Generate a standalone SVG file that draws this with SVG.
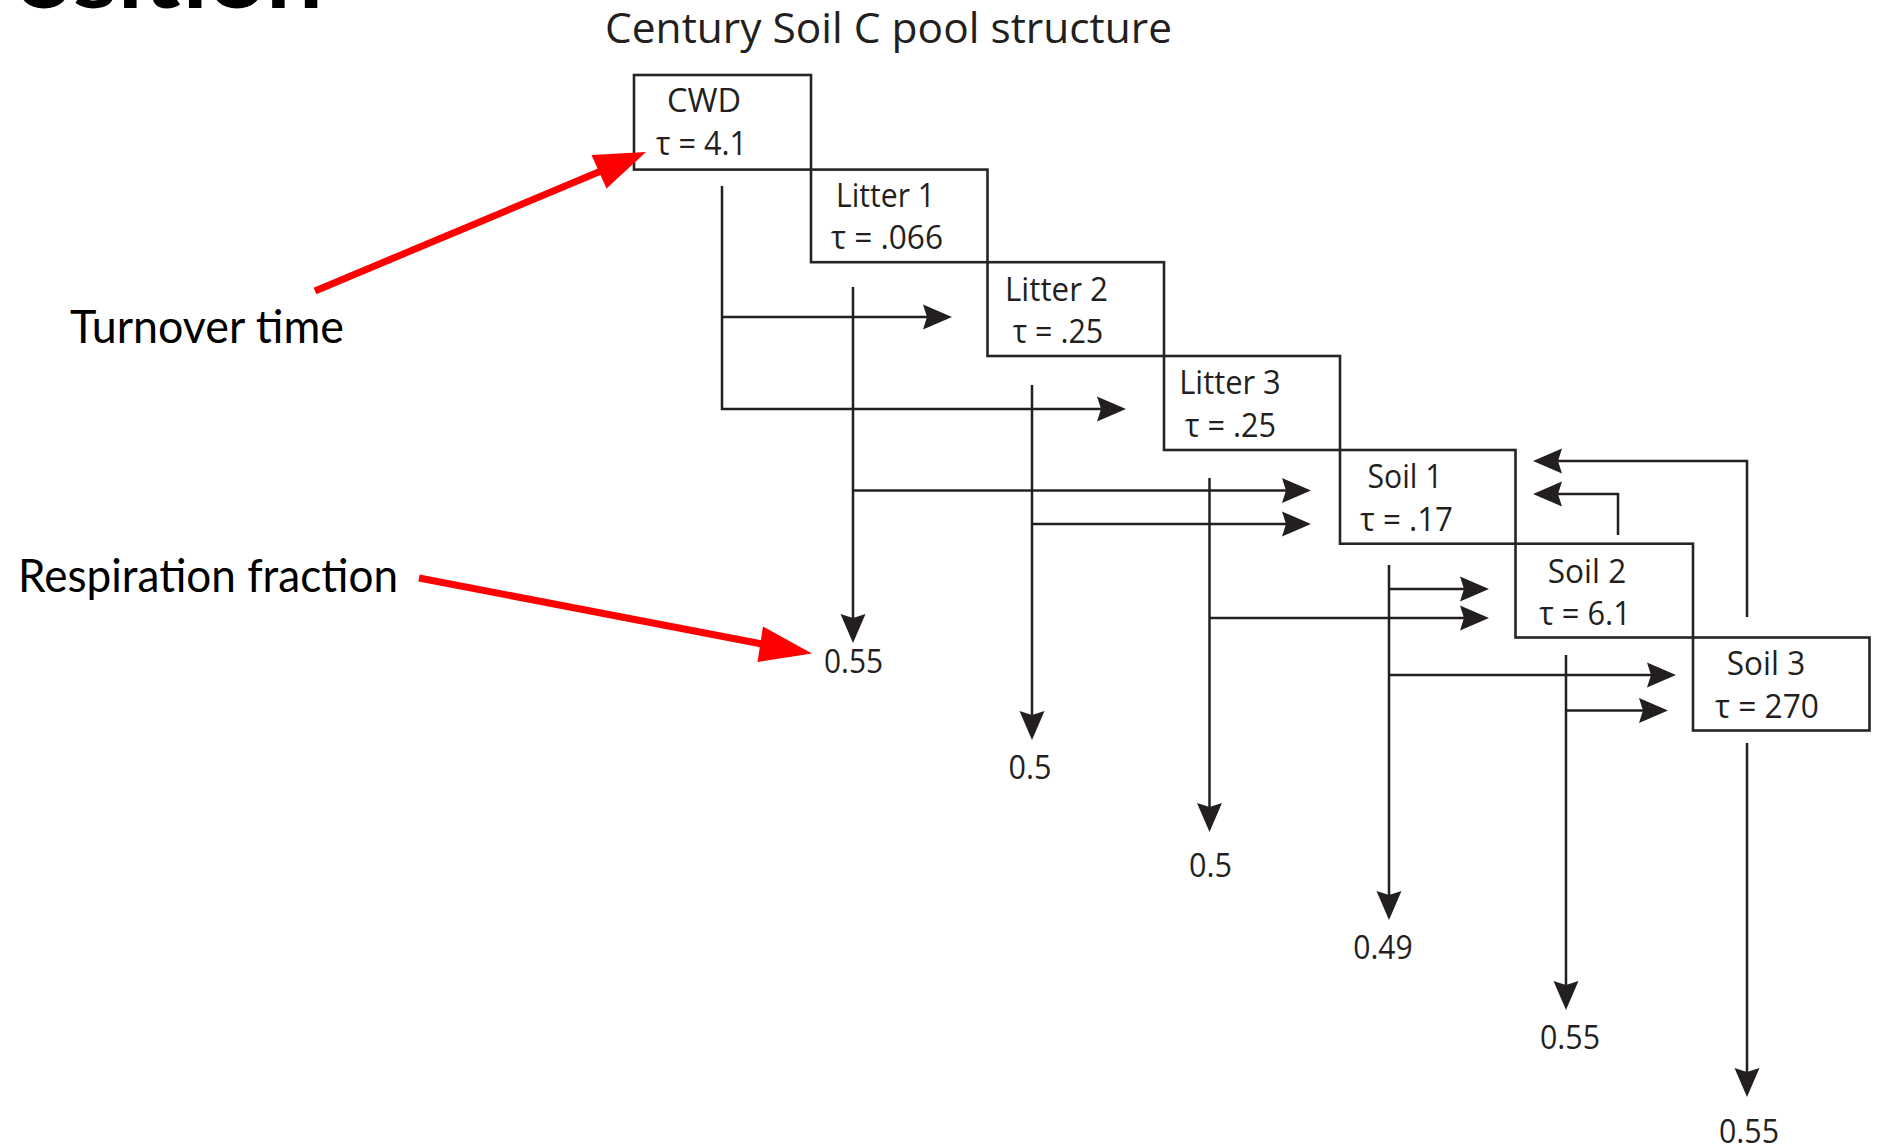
<svg xmlns="http://www.w3.org/2000/svg" width="1886" height="1148" viewBox="0 0 1886 1148">
<style>
.box{fill:none;stroke:#262425;stroke-width:2.6}
.bt{font-family:"Open Sans","Noto Sans",sans-serif;font-size:32px;fill:#231f20;text-anchor:middle}
.num{font-family:"Open Sans","Noto Sans",sans-serif;font-size:32px;fill:#231f20;text-anchor:middle}
.con{fill:none;stroke:#231f20;stroke-width:2.5}
.ann{font-family:Lato,"Open Sans",sans-serif;font-size:47px;fill:#000}
.red{stroke:#ff0000;stroke-width:7;fill:none}
.redh{fill:#ff0000}
</style>
<defs>
<marker id="ah" markerUnits="userSpaceOnUse" markerWidth="30" markerHeight="26" refX="4" refY="0" orient="auto" overflow="visible">
<path d="M29,0 L0,-12.5 L4,0 L0,12.5 Z" fill="#231f20"/>
</marker>
</defs>
<rect width="1886" height="1148" fill="#ffffff"/>
<text x="15" y="8" font-family="Lato,'Open Sans',sans-serif" font-weight="bold" font-size="92" fill="#000" textLength="308" lengthAdjust="spacingAndGlyphs">osition</text>
<text x="605" y="43" font-family="'Open Sans','Noto Sans',sans-serif" font-size="42.5" fill="#231f20" textLength="567" lengthAdjust="spacingAndGlyphs">Century Soil C pool structure</text>

<g id="cwd"><rect class="box" x="634" y="75" width="177" height="94.6"/>
<text class="bt" x="704" y="112" textLength="74" lengthAdjust="spacingAndGlyphs">CWD</text>
<text class="bt" x="701.5" y="155" textLength="91" lengthAdjust="spacingAndGlyphs">τ = 4.1</text></g>
<g id="litter1"><rect class="box" x="811" y="169.6" width="176.5" height="92.6"/>
<text class="bt" x="885.5" y="207" textLength="99" lengthAdjust="spacingAndGlyphs">Litter 1</text>
<text class="bt" x="887" y="249" textLength="112" lengthAdjust="spacingAndGlyphs">τ = .066</text></g>
<g id="litter2"><rect class="box" x="987.5" y="262.2" width="176.5" height="93.8"/>
<text class="bt" x="1056.5" y="300.5" textLength="103" lengthAdjust="spacingAndGlyphs">Litter 2</text>
<text class="bt" x="1058" y="343" textLength="90.5" lengthAdjust="spacingAndGlyphs">τ = .25</text></g>
<g id="litter3"><rect class="box" x="1164" y="356" width="176" height="94"/>
<text class="bt" x="1230" y="394" textLength="101.5" lengthAdjust="spacingAndGlyphs">Litter 3</text>
<text class="bt" x="1230.5" y="437" textLength="91" lengthAdjust="spacingAndGlyphs">τ = .25</text></g>
<g id="soil1"><rect class="box" x="1340" y="450" width="175.5" height="93.7"/>
<text class="bt" x="1405" y="488" textLength="75" lengthAdjust="spacingAndGlyphs">Soil 1</text>
<text class="bt" x="1406.5" y="531" textLength="93" lengthAdjust="spacingAndGlyphs">τ = .17</text></g>
<g id="soil2"><rect class="box" x="1515.5" y="543.7" width="177.5" height="93.8"/>
<text class="bt" x="1587" y="582.5" textLength="78.5" lengthAdjust="spacingAndGlyphs">Soil 2</text>
<text class="bt" x="1585" y="625" textLength="91.5" lengthAdjust="spacingAndGlyphs">τ = 6.1</text></g>
<g id="soil3"><rect class="box" x="1693" y="637.5" width="176.5" height="93"/>
<text class="bt" x="1766" y="675" textLength="78.3" lengthAdjust="spacingAndGlyphs">Soil 3</text>
<text class="bt" x="1767" y="718" textLength="104" lengthAdjust="spacingAndGlyphs">τ = 270</text></g>

<g id="connectors">
<path class="con" d="M722,186 V409 H1101" marker-end="url(#ah)"/>
<path class="con" d="M722,317 H927" marker-end="url(#ah)"/>
<path class="con" d="M853,287 V618" marker-end="url(#ah)"/>
<path class="con" d="M853,490.5 H1286" marker-end="url(#ah)"/>
<path class="con" d="M1032,385 V715" marker-end="url(#ah)"/>
<path class="con" d="M1032,524 H1286" marker-end="url(#ah)"/>
<path class="con" d="M1209.5,478 V807" marker-end="url(#ah)"/>
<path class="con" d="M1209.5,618 H1464" marker-end="url(#ah)"/>
<path class="con" d="M1389,565 V895" marker-end="url(#ah)"/>
<path class="con" d="M1389,589 H1464" marker-end="url(#ah)"/>
<path class="con" d="M1389,675 H1651" marker-end="url(#ah)"/>
<path class="con" d="M1566,655 V985" marker-end="url(#ah)"/>
<path class="con" d="M1566,710.5 H1643" marker-end="url(#ah)"/>
<path class="con" d="M1618,535 V494 H1558" marker-end="url(#ah)"/>
<path class="con" d="M1747,743 V1072" marker-end="url(#ah)"/>
<path class="con" d="M1747,617 V461 H1558" marker-end="url(#ah)"/>
</g>

<g id="respiration-labels">
<text class="num" x="853.5" y="673" textLength="59" lengthAdjust="spacingAndGlyphs">0.55</text>
<text class="num" x="1030" y="778.5" textLength="43" lengthAdjust="spacingAndGlyphs">0.5</text>
<text class="num" x="1210.5" y="876.5" textLength="43" lengthAdjust="spacingAndGlyphs">0.5</text>
<text class="num" x="1383" y="958.5" textLength="59.5" lengthAdjust="spacingAndGlyphs">0.49</text>
<text class="num" x="1570" y="1048.5" textLength="60" lengthAdjust="spacingAndGlyphs">0.55</text>
<text class="num" x="1749" y="1143" textLength="60" lengthAdjust="spacingAndGlyphs">0.55</text>
</g>

<g id="turnover-annotation">
<text class="ann" x="70" y="343" textLength="274" lengthAdjust="spacingAndGlyphs">Turnover time</text>
<line class="red" x1="315" y1="291" x2="601" y2="171"/>
<polygon class="redh" points="646,152 591.5,155 606.5,188.5"/>
</g>
<g id="respiration-annotation">
<text class="ann" x="18" y="592" textLength="380" lengthAdjust="spacingAndGlyphs">Respiration fraction</text>
<line class="red" x1="419" y1="578" x2="762" y2="644"/>
<polygon class="redh" points="812,653.5 763,626.5 757.5,662"/>
</g>
</svg>
